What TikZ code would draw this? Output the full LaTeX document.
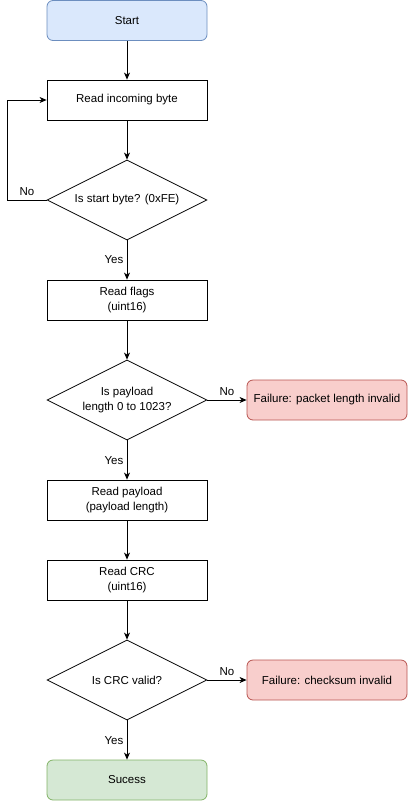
\documentclass[tikz,border=0pt]{standalone}
\usepackage{fontspec}
\setmainfont{Liberation Sans}
\usetikzlibrary{shapes.geometric,arrows.meta}
\definecolor{bluefill}{HTML}{DAE8FC}\definecolor{blueline}{HTML}{6C8EBF}
\definecolor{redfill}{HTML}{F8CECC}\definecolor{redline}{HTML}{B85450}
\definecolor{greenfill}{HTML}{D5E8D4}\definecolor{greenline}{HTML}{82B366}
\begin{document}
\begin{tikzpicture}[x=1pt,y=-1pt,
  font=\fontsize{11.5}{14.5}\selectfont,
  proc/.style={draw=black,line width=0.8pt,fill=white,minimum width=160pt,minimum height=40pt,inner sep=0pt,align=center},
  term/.style={proc,rounded corners=6pt},
  decis/.style={draw=black,line width=0.8pt,fill=white,shape=diamond,aspect=2,minimum width=160pt,minimum height=80pt,inner sep=0pt,align=center},
  conn/.style={line width=0.8pt,-{Stealth[length=7pt,width=6pt,inset=2pt]}},
  lbl/.style={inner sep=1pt}]
\useasboundingbox (0,0) rectangle (408,801);
\node[term,fill=bluefill,draw=blueline] (start) at (127,20.5) {Start};
\node[proc] (readbyte) at (127,100) {Read incoming byte};
\node[decis] (isstart) at (127,200) {Is start byte? (0xFE)};
\node[proc] (flags) at (127,300) {Read flags\\(uint16)};
\node[decis] (islen) at (127,400) {Is payload\\length 0 to 1023?};
\node[term,fill=redfill,draw=redline] (faillen) at (327,400) {Failure: packet length invalid};
\node[proc] (payload) at (127,500) {Read payload\\(payload length)};
\node[proc] (crc) at (127,580) {Read CRC\\(uint16)};
\node[decis] (iscrc) at (127,680) {Is CRC valid?};
\node[term,fill=redfill,draw=redline] (failcrc) at (327,680) {Failure: checksum invalid};
\node[term,fill=greenfill,draw=greenline] (success) at (127,780) {Sucess};
\coordinate (loopa) at (7,200);
\coordinate (loopb) at (7,100);
\draw[conn] (start) -- (readbyte);
\draw[conn] (readbyte) -- (isstart);
\draw[conn] (isstart.west) -- (loopa) -- (loopb) -- (readbyte.west);
\draw[conn] (isstart) -- (flags);
\draw[conn] (flags) -- (islen);
\draw[conn] (islen) -- (faillen);
\draw[conn] (islen) -- (payload);
\draw[conn] (payload) -- (crc);
\draw[conn] (crc) -- (iscrc);
\draw[conn] (iscrc) -- (failcrc);
\draw[conn] (iscrc) -- (success);
\node[lbl] (nostart) at (27,192) {No};
\node[lbl,anchor=east] (yesstart) at (124.5,260) {Yes};
\node[lbl] (nolen) at (227,392) {No};
\node[lbl,anchor=east] (yeslen) at (124.5,461) {Yes};
\node[lbl] (nocrc) at (227,672) {No};
\node[lbl,anchor=east] (yescrc) at (124.5,741) {Yes};
\end{tikzpicture}
\end{document}
